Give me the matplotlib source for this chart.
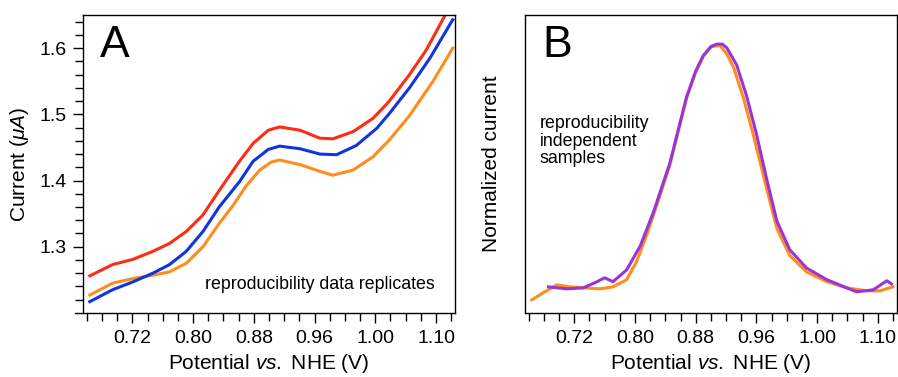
import matplotlib
matplotlib.use("Agg")
import matplotlib.pyplot as plt
import numpy as np

# panel A: three replicate scans (potential in V, current in uA)
potA_red = [0.664, 0.694, 0.721, 0.747, 0.769, 0.791, 0.813, 0.835, 0.861, 0.879, 0.899, 0.914,
            0.941, 0.967, 0.984, 1.011, 1.037, 1.057, 1.085, 1.107, 1.132]
curA_red = [1.256, 1.273, 1.281, 1.293, 1.305, 1.323, 1.348, 1.386, 1.429, 1.456, 1.476, 1.481,
            1.476, 1.464, 1.463, 1.474, 1.494, 1.518, 1.560, 1.597, 1.650]

potA_blue = [0.664, 0.694, 0.721, 0.747, 0.769, 0.791, 0.813, 0.835, 0.861, 0.879, 0.899, 0.914,
             0.941, 0.967, 0.989, 1.015, 1.042, 1.059, 1.085, 1.112, 1.142]
curA_blue = [1.217, 1.235, 1.247, 1.260, 1.273, 1.293, 1.323, 1.361, 1.398, 1.429, 1.447, 1.452,
             1.448, 1.440, 1.439, 1.453, 1.479, 1.502, 1.540, 1.585, 1.643]

potA_orange = [0.664, 0.694, 0.721, 0.747, 0.769, 0.791, 0.813, 0.835, 0.853, 0.870, 0.888, 0.903,
               0.914, 0.941, 0.967, 0.984, 1.011, 1.037, 1.059, 1.085, 1.116, 1.142]
curA_orange = [1.227, 1.245, 1.252, 1.257, 1.262, 1.275, 1.300, 1.336, 1.363, 1.392, 1.416, 1.428,
               1.431, 1.424, 1.414, 1.408, 1.416, 1.436, 1.462, 1.498, 1.550, 1.600]

# panel B: normalized current, two independent samples
potB_orange = [0.664, 0.679, 0.697, 0.714, 0.732, 0.754, 0.771, 0.789, 0.802, 0.815, 0.829, 0.846,
               0.868, 0.880, 0.890, 0.901, 0.912, 0.921, 0.930, 0.943, 0.956, 0.974, 0.987, 1.004,
               1.026, 1.053, 1.079, 1.105, 1.123, 1.140]
normB_orange = [-0.041, -0.012, 0.020, 0.012, 0.008, 0.004, 0.012, 0.041, 0.114, 0.220, 0.346, 0.508,
                0.780, 0.885, 0.950, 0.990, 0.994, 0.960, 0.905, 0.780, 0.630, 0.407, 0.250, 0.140,
                0.073, 0.033, 0.008, -0.004, -0.004, 0.012]

potB_purple = [0.686, 0.710, 0.732, 0.750, 0.760, 0.771, 0.789, 0.807, 0.824, 0.846, 0.868, 0.880,
               0.890, 0.900, 0.908, 0.915, 0.921, 0.934, 0.947, 0.960, 0.974, 0.987, 1.004, 1.026,
               1.053, 1.079, 1.092, 1.114, 1.132, 1.138]
normB_purple = [0.012, 0.004, 0.008, 0.033, 0.049, 0.033, 0.081, 0.179, 0.313, 0.516, 0.785, 0.890,
                0.953, 0.990, 1.000, 1.000, 0.985, 0.915, 0.790, 0.635, 0.445, 0.280, 0.163, 0.089,
                0.041, 0.008, -0.008, 0.000, 0.037, 0.024]

xtick_pos = [0.72, 0.80, 0.88, 0.96, 1.04, 1.12]
xtick_labels = ["0.72", "0.80", "0.88", "0.96", "1.00", "1.10"]
ytick_pos = [1.3, 1.4, 1.5, 1.6]

plt.rcParams["font.family"] = ["Liberation Sans", "DejaVu Sans"]
plt.rcParams["mathtext.fontset"] = "custom"
plt.rcParams["mathtext.rm"] = "Liberation Sans"
plt.rcParams["mathtext.it"] = "Liberation Sans:italic"

fig = plt.figure(figsize=(8.98, 3.77), dpi=100)
axA = fig.add_axes([0.0924, 0.170, 0.4143, 0.790])
axB = fig.add_axes([0.5846, 0.170, 0.4140, 0.790])

xlim = (0.655, 1.145)

for ax in (axA, axB):
    ax.set_xlim(*xlim)
    ax.set_xticks(xtick_pos)
    ax.set_xticklabels(xtick_labels)
    ax.set_xticks(np.arange(0.66, 1.1401, 0.02), minor=True)
    ax.tick_params(axis="both", which="major", direction="out", length=7, width=1, labelsize=14, pad=5)
    ax.tick_params(axis="both", which="minor", direction="out", length=5.5, width=1)
    for s in ax.spines.values():
        s.set_linewidth(1)
    ax.set_xlabel(r"Potential $\mathit{vs.}$ NHE (V)", fontsize=15, labelpad=4)

axA.plot(potA_red, curA_red, color="#ff2b12", lw=2.2)
axA.plot(potA_orange, curA_orange, color="#ff8c1c", lw=2.2)
axA.plot(potA_blue, curA_blue, color="#1233e0", lw=2.2)
axA.set_ylim(1.2, 1.65)
axA.set_yticks(ytick_pos)
axA.set_yticks(np.arange(1.22, 1.6401, 0.02), minor=True)
axA.set_ylabel(r"Current ($\mathit{\mu A}$)", fontsize=15, labelpad=6)
axA.spines["bottom"].set_bounds(xlim[0] - 0.011, xlim[1])
axA.text(0.046, 0.859, "A", transform=axA.transAxes, fontsize=32, va="baseline")
axA.text(0.946, 0.080, "reproducibility data replicates", transform=axA.transAxes,
         fontsize=12.8, ha="right", va="baseline")

axB.plot(potB_orange, normB_orange, color="#ff8c1c", lw=2.2)
axB.plot(potB_purple, normB_purple, color="#9a34d6", lw=2.2)
axB.set_ylim(-0.094, 1.118)
axB.set_yticks([])
axB.set_ylabel("Normalized current", fontsize=15, labelpad=17)
axB.text(0.048, 0.860, "B", transform=axB.transAxes, fontsize=32, va="baseline")
axB.text(0.040, 0.664, "reproducibility\nindependent\nsamples", transform=axB.transAxes,
         fontsize=12.8, ha="left", va="top", linespacing=1.05)

fig.savefig("out.png", dpi=100)
